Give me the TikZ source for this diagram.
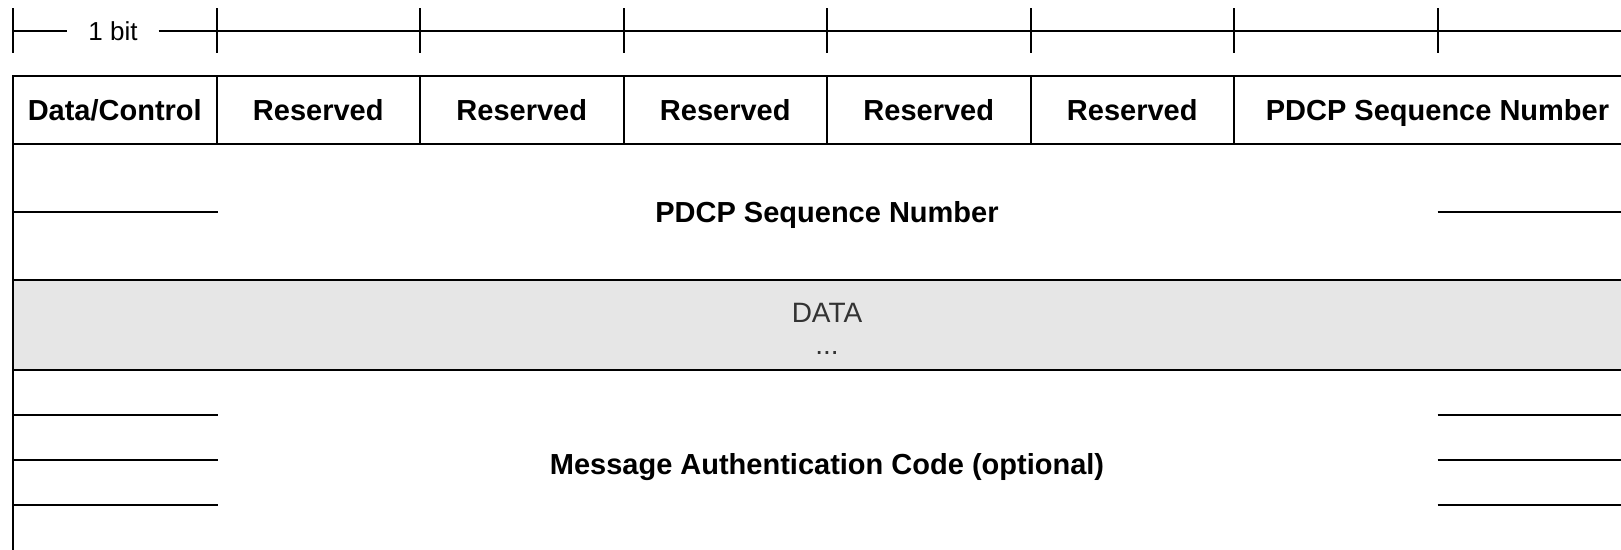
\documentclass[tikz,border=0pt]{standalone}
\usepackage{fontspec}
\setmainfont{Liberation Sans}
\usetikzlibrary{calc}
\definecolor{datagrey}{HTML}{E6E6E6}
\definecolor{datatextcol}{HTML}{333333}
\begin{document}
\begin{tikzpicture}[x=1pt,y=-1pt,
  line width=2pt,
  hdrfont/.style={font=\fontsize{29}{34}\selectfont\bfseries, text height=21pt, text depth=0pt},
  cell/.style={draw=black, line width=2pt, minimum height=68pt, inner sep=0pt, hdrfont},
  rowbox/.style={draw=black, line width=2pt, minimum width=1628pt, inner sep=0pt, hdrfont},
  datatext/.style={font=\fontsize{28}{32}\selectfont, text=datatextcol, inner sep=0pt},
  rulerline/.style={draw=black, line width=2pt},
]
\clip (0,0) rectangle (1621,549);
\fill[white] (0,0) rectangle (1621,549);

% ruler
\node[font=\fontsize{26}{30}\selectfont, inner xsep=20pt, inner ysep=0pt] (bit) at (113,31) {1 bit};
\foreach \i/\x in {0/13,1/216.5,2/420,3/623.5,4/827,5/1030.5,6/1234,7/1437.5}{
  \coordinate (t\i) at (\x,31);
  \draw[rulerline] (\x,8) -- (\x,53);
}
\coordinate (tend) at (1641,31);
\draw[rulerline] (t0) -- (bit.west);
\draw[rulerline] (bit.east) -- (t1) -- (tend);

% header row
\node[cell, minimum width=203.5pt] (c1) at (114.75,110) {Data/Control};
\node[cell, minimum width=203.5pt] (c2) at (318.25,110) {Reserved};
\node[cell, minimum width=203.5pt] (c3) at (521.75,110) {Reserved};
\node[cell, minimum width=203.5pt] (c4) at (725.25,110) {Reserved};
\node[cell, minimum width=203.5pt] (c5) at (928.75,110) {Reserved};
\node[cell, minimum width=203.5pt] (c6) at (1132.25,110) {Reserved};
\node[cell, minimum width=407pt] (c7) at (1437.5,110) {PDCP Sequence Number};

% sequence number row
\node[rowbox, minimum height=136pt] (seq) at (827,212) {PDCP Sequence Number};
\draw (seq.west) -- (seq.west -| c1.east);
\draw (seq.east -| c7.center) -- (seq.east);

% data row
\node[rowbox, minimum height=90pt, fill=datagrey] (data) at (827,325) {};
\node[datatext, anchor=base] (datalbl) at (827,322) {DATA};
\node[datatext, anchor=base] (dots) at (827,354) {...};

% MAC row
\node[rowbox, minimum height=188pt] (mac) at (827,464) {Message Authentication Code (optional)};
\foreach \dy in {-49,-4,41}{
  \draw ($(mac.west)+(0,\dy)$) -- ($(mac.west -| c1.east)+(0,\dy)$);
  \draw ($(mac.east -| c7.center)+(0,\dy)$) -- ($(mac.east)+(0,\dy)$);
}
\end{tikzpicture}
\end{document}
